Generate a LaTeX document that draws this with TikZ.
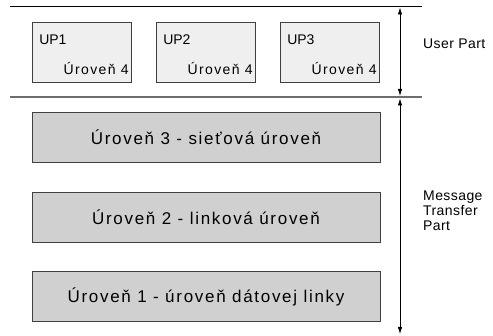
\documentclass[tikz,border=0pt]{standalone}
\usepackage{fontspec}
\setmainfont{Liberation Sans}
\newfontfamily\spaced[LetterSpace=10]{Liberation Sans}
\newfontfamily\lightspaced[LetterSpace=3]{Liberation Sans}
\usetikzlibrary{arrows.meta,calc}
\definecolor{upfill}{HTML}{EFEFEF}
\definecolor{lvlfill}{HTML}{D0D0D0}
\definecolor{boxline}{HTML}{404040}
\definecolor{midline}{HTML}{6E6E6E}
\tikzset{
  upbox/.style={draw=boxline, fill=upfill, line width=0.9pt, minimum width=99pt, minimum height=60pt, inner sep=0pt},
  lvlbox/.style={draw=boxline, fill=lvlfill, line width=0.9pt, minimum width=348pt, minimum height=50pt, inner sep=0pt,
    font=\spaced\fontsize{17}{20}\selectfont},
  uptitle/.style={anchor=base west, inner sep=0pt, font=\fontsize{14}{16}\selectfont},
  uplevel/.style={anchor=base east, inner sep=0pt, font=\spaced\fontsize{14}{16}\selectfont},
  sidelabel/.style={inner sep=0pt, align=left, font=\lightspaced\fontsize{14}{15}\selectfont},
  dimarrow/.style={{Latex[length=7pt,width=4.5pt]}-{Latex[length=7pt,width=4.5pt]}, line width=0.8pt}
}
\begin{document}
\begin{tikzpicture}[x=1pt,y=-1pt]
\useasboundingbox (0,0) rectangle (493,336);
% horizontal separator lines
\coordinate (tl) at (10,7);
\coordinate (tr) at (422,7);
\coordinate (ml) at (10,97);
\coordinate (mr) at (422,97);
\draw[line width=1pt] (tl) -- (tr);
\draw[midline, line width=2pt] (ml) -- (mr);
% user part boxes
\foreach \n/\x in {1/82,2/206,3/330}{
  \node[upbox] (up\n) at (\x,52.5) {};
  \node[uptitle] (up\n t) at ($(up\n.north west)+(7,22)$) {UP\n};
  \node[uplevel] (up\n l) at ($(up\n.south east)+(-3,-8)$) {Úroveň 4};
}
% level boxes
\node[lvlbox] (l3) at (206,137) {Úroveň 3 - sieťová úroveň};
\node[lvlbox] (l2) at (206,217) {Úroveň 2 - linková úroveň};
\node[lvlbox] (l1) at (206,296.5) {Úroveň 1 - úroveň dátovej linky};
% dimension arrows
\coordinate (a1) at (400,7.5);
\coordinate (a2) at (400,96);
\coordinate (b1) at (400,98.5);
\coordinate (b2) at (400,334);
\draw[dimarrow] (a1) -- (a2);
\draw[dimarrow] (b1) -- (b2);
% side labels
\node[sidelabel, anchor=west] (user) at (423,44) {User Part};
\node[sidelabel, anchor=north west] (mtp) at (423,191) {Message\\Transfer\\Part};
\end{tikzpicture}
\end{document}
